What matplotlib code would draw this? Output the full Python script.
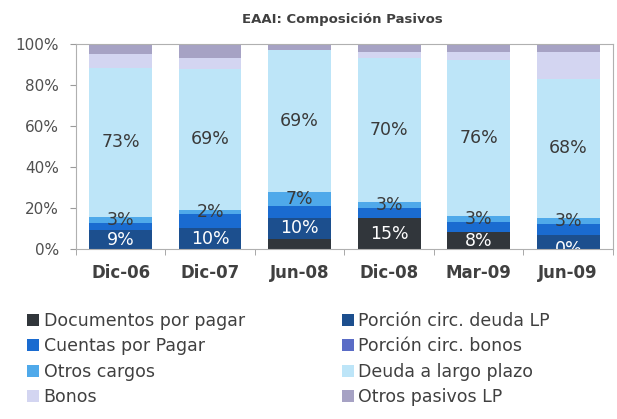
import matplotlib
matplotlib.use("Agg")
import matplotlib.pyplot as plt
import numpy as np

categories = ["Dic-06", "Dic-07", "Jun-08", "Dic-08", "Mar-09", "Jun-09"]

series_names = ["Documentos por pagar", "Porción circ. deuda LP", "Cuentas por Pagar",
                "Porción circ. bonos", "Otros cargos", "Deuda a largo plazo",
                "Bonos", "Otros pasivos LP"]

documentos = [0, 0, 5, 15, 8, 0]
porcion_deuda_lp = [9, 10, 10, 0, 0, 7]
cuentas_pagar = [3.5, 7, 6, 5, 5, 5]
porcion_bonos = [0, 0, 0, 0, 0, 0]
otros_cargos = [3, 2, 7, 3, 3, 3]
deuda_largo = [73, 69, 69, 70, 76, 68]
bonos = [6.5, 5, 0, 3, 4, 13]
otros_pasivos = [5, 7, 3, 4, 4, 4]

# displayed data labels (as in the original chart)
labels_documentos = ["", "", "", "15%", "8%", "0%"]
labels_porcion_deuda = ["9%", "10%", "10%", "", "", ""]
labels_otros_cargos = ["3%", "2%", "7%", "3%", "3%", "3%"]
labels_deuda_largo = ["73%", "69%", "69%", "70%", "76%", "68%"]

yticks = [0, 20, 40, 60, 80, 100]
ytick_labels = ["0%", "20%", "40%", "60%", "80%", "100%"]

colors = ["#31363b", "#1c4f8e", "#1a6bd0", "#5a6cc6", "#4fa9ea",
          "#bde5f8", "#d3d5f1", "#a6a2c4"]

plt.rcParams['font.family'] = ['DejaVu Sans']

fig = plt.figure(figsize=(6.17, 4.19), dpi=100)
ax = fig.add_axes([0.123, 0.406, 0.8705, 0.489])

data = [documentos, porcion_deuda_lp, cuentas_pagar, porcion_bonos,
        otros_cargos, deuda_largo, bonos, otros_pasivos]
x = np.arange(len(categories))
bottom = np.zeros(len(categories))
containers = []
for vals, name, col in zip(data, series_names, colors):
    c = ax.bar(x, vals, width=0.70, bottom=bottom, color=col, label=name,
               edgecolor='none', zorder=2)
    containers.append(c)
    bottom += np.array(vals, dtype=float)

def put_labels(container, labels, color):
    for rect, lab in zip(container.patches, labels):
        if not lab:
            continue
        cx = rect.get_x() + rect.get_width() / 2
        cy = rect.get_y() + rect.get_height() / 2
        ax.text(cx, cy, lab, ha='center', va='center', fontsize=12.5,
                color=color, clip_on=True, zorder=3)

put_labels(containers[0], labels_documentos, 'white')
put_labels(containers[1], labels_porcion_deuda, 'white')
put_labels(containers[4], labels_otros_cargos, '#3a3a3a')
put_labels(containers[5], labels_deuda_largo, '#3a3a3a')

ax.set_xlim(-0.5, len(categories) - 0.5)
ax.set_ylim(0, 100)
ax.set_yticks(yticks)
ax.set_yticklabels(ytick_labels, fontsize=11, color='#505050')
ax.set_xticks(x)
ax.set_xticklabels(categories, fontsize=12, fontweight='bold', color='#404040')
ax.set_xticks(np.arange(len(categories) + 1) - 0.5, minor=True)
ax.tick_params(axis='x', which='major', length=0, pad=11)
ax.tick_params(axis='x', which='minor', length=4, color='#9a9a9a', direction='out')
ax.tick_params(axis='y', length=4, color='#9a9a9a', pad=8)
for s in ax.spines.values():
    s.set_color('#b0b0b0')
    s.set_linewidth(0.8)

fig.suptitle("EAAI: Composición Pasivos", x=0.555, y=0.968, fontsize=9.5,
             fontweight='bold', color='#404040')

handles, labs = ax.get_legend_handles_labels()
order = [0, 2, 4, 6, 1, 3, 5, 7]
fig.legend([handles[i] for i in order], [labs[i] for i in order],
           loc='upper left', bbox_to_anchor=(0.044, 0.255), ncol=2,
           frameon=False, fontsize=12.5, borderpad=0, borderaxespad=0,
           handlelength=0.7, handleheight=0.7, handletextpad=0.25,
           labelspacing=0.42, columnspacing=5.6, labelcolor='#404040')

fig.savefig("out.png", dpi=100, facecolor='white')
